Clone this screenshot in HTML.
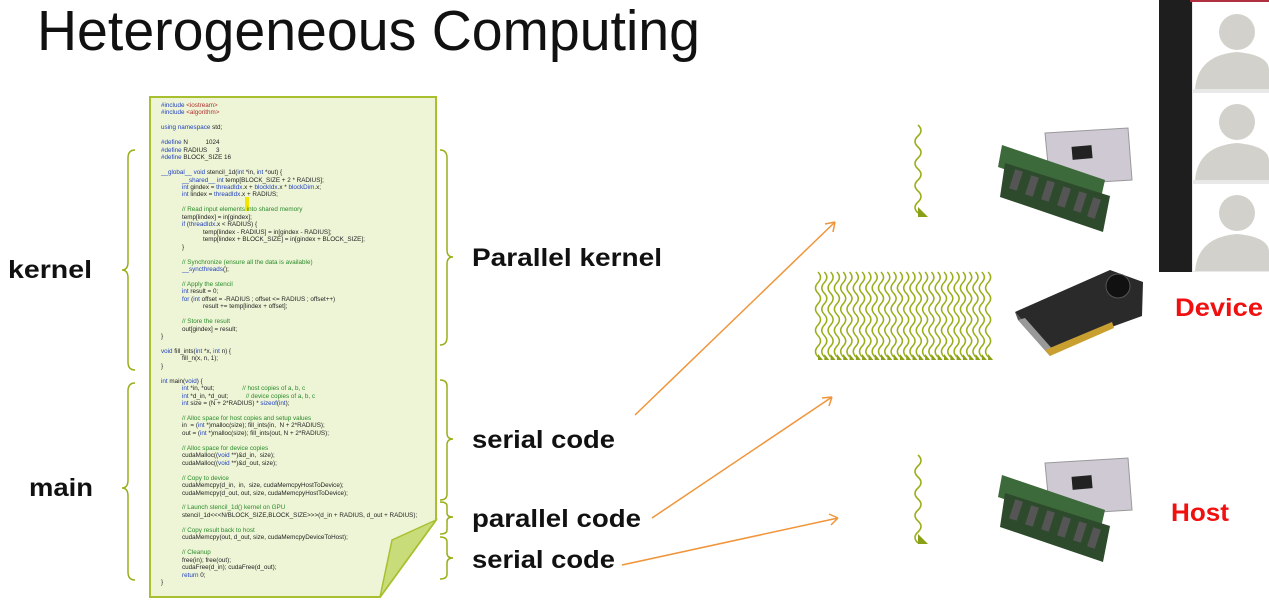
<!DOCTYPE html>
<html><head><meta charset="utf-8"><style>
html,body{margin:0;padding:0;background:#fff;}
body{width:1269px;height:603px;overflow:hidden;position:relative;font-family:"Liberation Sans",sans-serif;}
.code{position:absolute;left:161px;top:102px;font-size:6.3px;line-height:7.45px;color:#222;white-space:pre;font-family:"Liberation Sans",sans-serif;}
.k{color:#1f3fbf}.c{color:#2a8a2a}.i{color:#b03030}
</style></head><body>
<svg width="1269" height="603" style="position:absolute;left:0;top:0">
<defs>
<path id="w1" d="M0,0 q6,5.5 0,11 t0,11 t0,11 t0,11 t0,11 t0,11 t0,11 t0,11" fill="none" stroke="#9aae1a" stroke-width="1.6"/>
<path id="w2" d="M0,0 q5,5.3 0,10.6 t0,10.6 t0,10.6 t0,10.6 t0,10.6 t0,10.6 t0,10.6 t0,10.6" fill="none" stroke="#9aae1a" stroke-width="1.5"/>
<g id="bw"><use href="#w2"/><path d="M0,82 L0,88 L5,88 Z" fill="#8aa016"/></g>
</defs>
<text x="37" y="50" font-family="Liberation Sans, sans-serif" font-size="57" textLength="663" lengthAdjust="spacingAndGlyphs" fill="#111">Heterogeneous Computing</text>
<!-- paper -->
<path d="M150,97 L436,97 L436,520 L380,597 L150,597 Z" fill="#eef5d6" stroke="#a8c030" stroke-width="2"/>
<path d="M436,520 L392,540 L380,597 Z" fill="#c9dc7a" stroke="#a8c030" stroke-width="1.5"/>
<rect x="245" y="197" width="4" height="14" fill="#f2e600"/>
<!-- braces -->
<g fill="none" stroke="#9aae1a" stroke-width="1.5">
<path d="M135,150 q-7,0 -7,8 L128,262 q0,8 -6,8 q6,0 6,8 L128,362 q0,8 7,8"/>
<path d="M135,383 q-7,0 -7,8 L128,480 q0,8 -6,8 q6,0 6,8 L128,572 q0,8 7,8"/>
<path d="M440,150 q7,0 7,8 L447,250 q0,7 6,7 q-6,0 -6,7 L447,337 q0,8 -7,8"/>
<path d="M440,380 q7,0 7,6 L447,433 q0,6 6,6 q-6,0 -6,6 L447,494 q0,6 -7,6"/>
<path d="M440,502 q7,0 7,4 L447,513 q0,4 6,4 q-6,0 -6,4 L447,530 q0,4 -7,4"/>
<path d="M440,537 q7,0 7,5 L447,553 q0,5 6,5 q-6,0 -6,5 L447,574 q0,5 -7,5"/>
</g>
<g font-family="Liberation Sans, sans-serif" font-weight="bold" font-size="25" fill="#111" lengthAdjust="spacingAndGlyphs">
<text x="8" y="278" textLength="84" lengthAdjust="spacingAndGlyphs">kernel</text>
<text x="29" y="496" textLength="64" lengthAdjust="spacingAndGlyphs">main</text>
<text x="472" y="266" textLength="190" lengthAdjust="spacingAndGlyphs">Parallel kernel</text>
<text x="472" y="448" textLength="143" lengthAdjust="spacingAndGlyphs">serial code</text>
<text x="472" y="527" textLength="169" lengthAdjust="spacingAndGlyphs">parallel code</text>
<text x="472" y="568" textLength="143" lengthAdjust="spacingAndGlyphs">serial code</text>
</g>
<g font-family="Liberation Sans, sans-serif" font-weight="bold" font-size="25" fill="#f01010">
<text x="1175" y="316" textLength="88" lengthAdjust="spacingAndGlyphs">Device</text>
<text x="1171" y="521" textLength="58" lengthAdjust="spacingAndGlyphs">Host</text>
</g>
<!-- orange arrows -->
<g stroke="#f0953a" stroke-width="1.5" fill="none">
<path d="M635,415 L835,222 M835,222 l-10,2 M835,222 l-2,10"/>
<path d="M652,518 L832,397 M832,397 l-10,1 M832,397 l-3,9"/>
<path d="M622,565 L838,518 M838,518 l-9,-4 M838,518 l-7,7"/>
</g>
<!-- single waves -->
<use href="#w1" x="918" y="125"/>
<path d="M918,207 L918,217 L928,217 Z" fill="#8aa016"/>
<use href="#w1" x="918" y="455"/>
<path d="M918,534 L918,544 L928,544 Z" fill="#8aa016"/>
<!-- big block -->
<g transform="translate(818,272)">
<use href="#bw" x="0"/><use href="#bw" x="6.3"/><use href="#bw" x="12.6"/><use href="#bw" x="18.9"/><use href="#bw" x="25.2"/><use href="#bw" x="31.5"/><use href="#bw" x="37.8"/><use href="#bw" x="44.1"/><use href="#bw" x="50.4"/><use href="#bw" x="56.7"/><use href="#bw" x="63"/><use href="#bw" x="69.3"/><use href="#bw" x="75.6"/><use href="#bw" x="81.9"/><use href="#bw" x="88.2"/><use href="#bw" x="94.5"/><use href="#bw" x="100.8"/><use href="#bw" x="107.1"/><use href="#bw" x="113.4"/><use href="#bw" x="119.7"/><use href="#bw" x="126"/><use href="#bw" x="132.3"/><use href="#bw" x="138.6"/><use href="#bw" x="144.9"/><use href="#bw" x="151.2"/><use href="#bw" x="157.5"/><use href="#bw" x="163.8"/><use href="#bw" x="170.1"/>
</g>
<!-- CPU + RAM top -->
<g id="cpu">
<polygon points="1045,133 1128,128 1132,180 1050,185" fill="#cfc9d4" stroke="#999" stroke-width="1"/>
<rect x="1072" y="146" width="20" height="13" fill="#222" transform="rotate(-5 1082 152)"/>
<polygon points="1002,145 1105,180 1100,202 998,167" fill="#3c6a3a"/>
<polygon points="1005,163 1110,196 1103,232 1000,197" fill="#2e4a2c"/>
<g fill="#555"><rect x="1012" y="170" width="8" height="20" transform="rotate(18 1016 180)"/><rect x="1028" y="176" width="8" height="20" transform="rotate(18 1032 186)"/><rect x="1044" y="181" width="8" height="20" transform="rotate(18 1048 191)"/><rect x="1060" y="187" width="8" height="20" transform="rotate(18 1064 197)"/><rect x="1076" y="192" width="8" height="20" transform="rotate(18 1080 202)"/><rect x="1090" y="198" width="8" height="20" transform="rotate(18 1094 208)"/></g>
</g>
<use href="#cpu" y="330"/>
<!-- GPU -->
<polygon points="1015,312 1110,270 1143,282 1142,316 1048,350" fill="#2a2a2a"/>
<polygon points="1015,312 1048,350 1050,356 1018,320" fill="#555"/>
<polygon points="1018,320 1050,356 1055,352 1025,318" fill="#999"/>
<circle cx="1118" cy="286" r="12" fill="#111" stroke="#555"/>
<polygon points="1045,350 1112,322 1114,328 1050,356" fill="#c9a030"/>
<!-- webcam panel -->
<rect x="1159" y="0" width="110" height="272" fill="#e8e8e8"/>
<rect x="1159" y="0" width="33" height="272" fill="#1e1e1e"/>
<g fill="#fff"><rect x="1193" y="2" width="76" height="87"/><rect x="1193" y="93" width="76" height="87"/><rect x="1193" y="184" width="76" height="87"/></g>
<g fill="#d3d1cc">
<circle cx="1237" cy="32" r="18"/><path d="M1195,89 Q1198,55 1237,52 Q1269,55 1269,70 L1269,89 Z"/>
<circle cx="1237" cy="122" r="18"/><path d="M1195,180 Q1198,146 1237,143 Q1269,146 1269,161 L1269,180 Z"/>
<circle cx="1237" cy="213" r="18"/><path d="M1195,271 Q1198,237 1237,234 Q1269,237 1269,252 L1269,271 Z"/>
</g>
<rect x="1190" y="0" width="79" height="2" fill="#b03040"/>
</svg>
<div class="code"><span class="k">#include</span> <span class="i">&lt;iostream&gt;</span>
<span class="k">#include</span> <span class="i">&lt;algorithm&gt;</span>

<span class="k">using namespace</span> std;

<span class="k">#define</span> N          1024
<span class="k">#define</span> RADIUS     3
<span class="k">#define</span> BLOCK_SIZE 16

<span class="k">__global__ void</span> stencil_1d(<span class="k">int</span> *in, <span class="k">int</span> *out) {
            <span class="k">__shared__ int</span> temp[BLOCK_SIZE + 2 * RADIUS];
            <span class="k">int</span> gindex = <span class="k">threadIdx</span>.x + <span class="k">blockIdx</span>.x * <span class="k">blockDim</span>.x;
            <span class="k">int</span> lindex = <span class="k">threadIdx</span>.x + RADIUS;

            <span class="c">// Read input elements into shared memory</span>
            temp[lindex] = in[gindex];
            <span class="k">if</span> (<span class="k">threadIdx</span>.x &lt; RADIUS) {
                        temp[lindex - RADIUS] = in[gindex - RADIUS];
                        temp[lindex + BLOCK_SIZE] = in[gindex + BLOCK_SIZE];
            }

            <span class="c">// Synchronize (ensure all the data is available)</span>
            <span class="k">__syncthreads</span>();

            <span class="c">// Apply the stencil</span>
            <span class="k">int</span> result = 0;
            <span class="k">for</span> (<span class="k">int</span> offset = -RADIUS ; offset &lt;= RADIUS ; offset++)
                        result += temp[lindex + offset];

            <span class="c">// Store the result</span>
            out[gindex] = result;
}

<span class="k">void</span> fill_ints(<span class="k">int</span> *x, <span class="k">int</span> n) {
            fill_n(x, n, 1);
}

<span class="k">int</span> main(<span class="k">void</span>) {
            <span class="k">int</span> *in, *out;                <span class="c">// host copies of a, b, c</span>
            <span class="k">int</span> *d_in, *d_out;          <span class="c">// device copies of a, b, c</span>
            <span class="k">int</span> size = (N + 2*RADIUS) * <span class="k">sizeof</span>(<span class="k">int</span>);

            <span class="c">// Alloc space for host copies and setup values</span>
            in  = (<span class="k">int</span> *)malloc(size); fill_ints(in,  N + 2*RADIUS);
            out = (<span class="k">int</span> *)malloc(size); fill_ints(out, N + 2*RADIUS);

            <span class="c">// Alloc space for device copies</span>
            cudaMalloc((<span class="k">void</span> **)&amp;d_in,  size);
            cudaMalloc((<span class="k">void</span> **)&amp;d_out, size);

            <span class="c">// Copy to device</span>
            cudaMemcpy(d_in,  in,  size, cudaMemcpyHostToDevice);
            cudaMemcpy(d_out, out, size, cudaMemcpyHostToDevice);

            <span class="c">// Launch stencil_1d() kernel on GPU</span>
            stencil_1d&lt;&lt;&lt;N/BLOCK_SIZE,BLOCK_SIZE&gt;&gt;&gt;(d_in + RADIUS, d_out + RADIUS);

            <span class="c">// Copy result back to host</span>
            cudaMemcpy(out, d_out, size, cudaMemcpyDeviceToHost);

            <span class="c">// Cleanup</span>
            free(in); free(out);
            cudaFree(d_in); cudaFree(d_out);
            <span class="k">return</span> 0;
}</div>
</body></html>
